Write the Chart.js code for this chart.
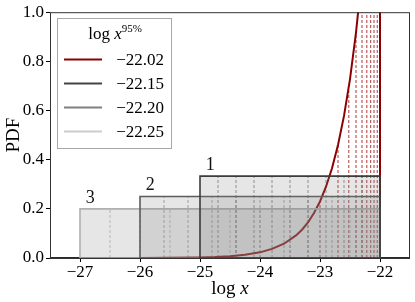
<!DOCTYPE html>
<html>
<head>
<meta charset="utf-8">
<script src="https://cdn.jsdelivr.net/npm/chart.js@4.4.1/dist/chart.umd.min.js"></script>
<style>
  html, body { margin: 0; padding: 0; background: #fff; }
  #wrap { width: 415px; height: 302px; }
</style>
</head>
<body>
<div id="wrap"><canvas id="chart"></canvas></div>
<script>
const xTicks = [-27, -26, -25, -24, -23, -22];
const yTicks = [0, 0.2, 0.4, 0.6, 0.8, 1.0];

// uniform priors on log x, labelled 1..3
const boxNames = ['1', '2', '3'];
const boxLeft = [-25, -26, -27];
const boxRight = [-22, -22, -22];
const boxHeight = [0.333, 0.25, 0.2];
const boxEdge = ['#3c3c3c', '#5c5c5c', '#b0b0b0'];
const boxLine = ['rgba(68,68,68,0.6)', 'rgba(110,110,110,0.6)', 'rgba(185,185,185,0.85)'];

// dashed decile lines of each box
const boxDeciles = [
  [-24.7, -24.4, -24.1, -23.8, -23.5, -23.2, -22.9, -22.6, -22.3],
  [-25.6, -25.2, -24.8, -24.4, -24.0, -23.6, -23.2, -22.8, -22.4],
  [-26.5, -26.0, -25.5, -25.0, -24.5, -24.0, -23.5, -23.0, -22.5]
];

// red pdf
const curveX = [-27.5, -26, -25.5, -25, -24.75, -24.5, -24.25, -24, -23.8, -23.6, -23.4, -23.3, -23.2,
  -23.1, -23.0, -22.9, -22.8, -22.7, -22.6, -22.5, -22.4, -22.3, -22.0, -22.0, -21.5];
const curveY = [0, 0.0002, 0.0007, 0.0023, 0.004, 0.0073, 0.013, 0.023, 0.037, 0.058, 0.092, 0.115, 0.145,
  0.183, 0.230, 0.290, 0.365, 0.460, 0.578, 0.728, 0.917, 1.154, 2.30, 0, 0];
const curveDeciles = [-23.0, -22.70, -22.52, -22.40, -22.30, -22.22, -22.155, -22.10, -22.046];
const curveDecileTop = [0.23, 0.46, 0.69, 0.92, 1, 1, 1, 1, 1];

const legendLabels = ['\u221222.02', '\u221222.15', '\u221222.20', '\u221222.25'];
const legendColors = ['#8b0000', '#444444', '#808080', '#cccccc'];

const SERIF = '"Liberation Serif", "DejaVu Serif", serif';
const fmtMinus = v => (v < 0 ? '\u2212' : '') + Math.abs(v);

function buildDatasets() {
  const sets = [];
  // dashed lines first (drawn underneath)
  boxDeciles.forEach((qs, i) => {
    qs.forEach(q => {
      sets.push({
        data: [{ x: q, y: 0 }, { x: q, y: boxHeight[i] }],
        borderColor: boxLine[i], borderWidth: 1, borderDash: [3, 2], fill: false, order: 4
      });
    });
  });
  curveDeciles.forEach((q, i) => {
    sets.push({
      data: [{ x: q, y: 0 }, { x: q, y: curveDecileTop[i] }],
      borderColor: 'rgba(160,20,20,0.85)', borderWidth: 1, borderDash: [3, 2], fill: false, order: 4
    });
  });
  sets.push({
    data: curveX.map((x, i) => ({ x: x, y: curveY[i] })),
    borderColor: '#8b0000', borderWidth: 2, fill: false, order: 2
  });
  boxNames.forEach((n, i) => {
    const l = boxLeft[i], r = boxRight[i], h = boxHeight[i];
    sets.push({
      data: [{ x: l, y: 0 }, { x: l, y: h }, { x: r, y: h }, { x: r, y: 0 }, { x: l, y: 0 }],
      borderColor: boxEdge[i], borderWidth: 1.6,
      backgroundColor: 'rgba(128,128,128,0.2)', fill: 'shape', order: 1
    });
  });
  return sets;
}

function drawMixed(ctx, parts, cx, cy) {
  // parts: [text, font, dy]
  let w = 0;
  parts.forEach(p => { ctx.font = p[1]; w += ctx.measureText(p[0]).width; });
  let x = cx - w / 2;
  ctx.textAlign = 'left';
  ctx.textBaseline = 'alphabetic';
  parts.forEach(p => {
    ctx.font = p[1];
    ctx.fillText(p[0], x, cy + p[2]);
    x += ctx.measureText(p[0]).width;
  });
}

const decor = {
  id: 'decor',
  afterDatasetsDraw(chart) {
    const { ctx, chartArea: a, scales: { x, y } } = chart;
    ctx.save();
    // frame
    ctx.strokeStyle = '#333';
    ctx.lineWidth = 1;
    ctx.strokeRect(a.left + 0.5, a.top + 0.5, a.right - a.left - 1, a.bottom - a.top);

    // box numbers
    ctx.fillStyle = '#111';
    ctx.font = '18px ' + SERIF;
    ctx.textAlign = 'center';
    ctx.textBaseline = 'middle';
    boxNames.forEach((n, i) => {
      ctx.fillText(n, x.getPixelForValue(boxLeft[i] + 0.17), y.getPixelForValue(boxHeight[i] + 0.045));
    });

    // axis titles
    ctx.fillStyle = '#000';
    drawMixed(ctx, [['log ', '19px ' + SERIF, 0], ['x', 'italic 19px ' + SERIF, 0]], (a.left + a.right) / 2, 294);
    ctx.save();
    ctx.translate(19, (a.top + a.bottom) / 2);
    ctx.rotate(-Math.PI / 2);
    ctx.font = '19px ' + SERIF;
    ctx.textAlign = 'center';
    ctx.textBaseline = 'alphabetic';
    ctx.fillText('PDF', 0, 0);
    ctx.restore();

    // legend
    ctx.fillStyle = 'rgba(255,255,255,0.9)';
    ctx.fillRect(57.5, 18.5, 114, 130);
    ctx.strokeStyle = '#a8a8a8';
    ctx.strokeRect(57.5, 18.5, 114, 130);
    ctx.fillStyle = '#000';
    drawMixed(ctx, [['log ', '17px ' + SERIF, 0], ['x', 'italic 17px ' + SERIF, 0], ['95%', '11px ' + SERIF, -7]], 115, 39);
    legendLabels.forEach((t, i) => {
      const yy = 59.5 + i * 24;
      ctx.strokeStyle = legendColors[i];
      ctx.lineWidth = 2;
      ctx.beginPath();
      ctx.moveTo(64, yy);
      ctx.lineTo(102, yy);
      ctx.stroke();
      ctx.font = '17px ' + SERIF;
      ctx.textAlign = 'right';
      ctx.textBaseline = 'middle';
      ctx.fillStyle = '#000';
      ctx.fillText(t, 164, yy + 1);
    });
    ctx.restore();
  }
};

new Chart(document.getElementById('chart'), {
  type: 'line',
  data: { datasets: buildDatasets() },
  options: {
    responsive: true,
    maintainAspectRatio: false,
    animation: false,
    elements: { point: { radius: 0, hoverRadius: 0 }, line: { tension: 0 } },
    layout: { padding: { top: 10, right: 5, left: 0, bottom: 0 } },
    plugins: { legend: { display: false }, tooltip: { enabled: false } },
    scales: {
      x: {
        type: 'linear', min: -27.5, max: -21.5,
        afterBuildTicks: s => { s.ticks = xTicks.map(v => ({ value: v })); },
        afterFit: s => { s.height = 44; },
        ticks: { callback: v => fmtMinus(v), font: { family: SERIF, size: 17 }, color: '#000', padding: 0, maxRotation: 0 },
        grid: { drawOnChartArea: false, drawTicks: true, tickLength: 4, color: '#000' },
        border: { display: false }
      },
      y: {
        type: 'linear', min: 0, max: 1,
        afterBuildTicks: s => { s.ticks = yTicks.map(v => ({ value: v })); },
        afterFit: s => { s.width = 50; },
        ticks: { callback: v => v.toFixed(1), font: { family: SERIF, size: 17 }, color: '#000', padding: 2 },
        grid: { drawOnChartArea: false, drawTicks: true, tickLength: 4, color: '#000' },
        border: { display: false }
      }
    }
  },
  plugins: [decor]
});
</script>
</body>
</html>
